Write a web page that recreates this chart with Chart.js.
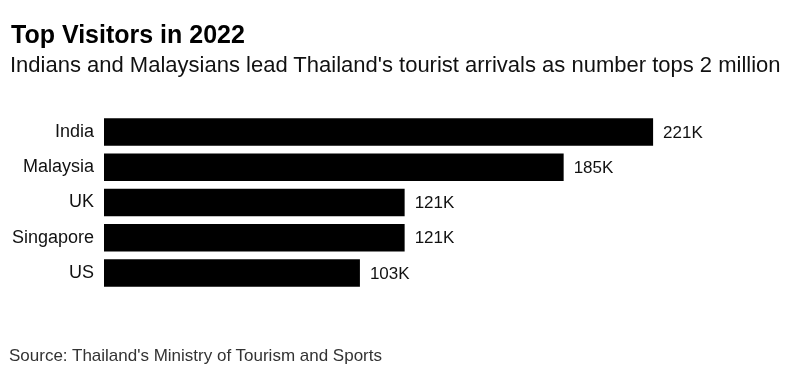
<!DOCTYPE html>
<html>
<head>
<meta charset="utf-8">
<script src="https://cdn.jsdelivr.net/npm/chart.js@4"></script>
<style>
  html, body { margin: 0; padding: 0; background: #fff; }
  body { width: 798px; height: 378px; position: relative; overflow: hidden; font-family: "Liberation Sans", Arial, sans-serif; }
  .txt { position: absolute; white-space: nowrap; }
  #title { left: 11px; top: 21.5px; font-size: 25px; line-height: 25px; font-weight: bold; color: #000; }
  #subtitle { left: 10px; top: 54px; font-size: 22px; line-height: 22px; color: #111; }
  #source { left: 9px; top: 346.6px; font-size: 17px; line-height: 17px; color: #333; }
  #wrap { position: absolute; left: 0; top: 0; width: 798px; height: 378px; }
</style>
</head>
<body>
<div id="wrap"><canvas id="visitorsChart"></canvas></div>
<div class="txt" id="title">Top Visitors in 2022</div>
<div class="txt" id="subtitle">Indians and Malaysians lead Thailand's tourist arrivals as number tops 2 million</div>
<div class="txt" id="source">Source: Thailand's Ministry of Tourism and Sports</div>
<script>
// data (thousands of visitors)
const countries = ['India', 'Malaysia', 'UK', 'Singapore', 'US'];
const visitors = [221, 185, 121, 121, 103];
const valueLabels = ['221K', '185K', '121K', '121K', '103K'];

// label at end of each bar
const barLabels = {
  id: 'barLabels',
  afterDatasetsDraw(chart) {
    const ctx = chart.ctx;
    const meta = chart.getDatasetMeta(0);
    ctx.save();
    ctx.font = '17px "Liberation Sans", Arial, sans-serif';
    ctx.fillStyle = '#111';
    ctx.textAlign = 'left';
    ctx.textBaseline = 'middle';
    meta.data.forEach((bar, i) => {
      ctx.fillText(valueLabels[i], bar.x + 10, bar.y + 1);
    });
    ctx.restore();
  }
};

new Chart(document.getElementById('visitorsChart'), {
  type: 'bar',
  data: {
    labels: countries,
    datasets: [{
      data: visitors,
      backgroundColor: '#000',
      barPercentage: 0.78,
      categoryPercentage: 1
    }]
  },
  options: {
    indexAxis: 'y',
    responsive: true,
    maintainAspectRatio: false,
    animation: false,
    layout: { padding: { top: 114.4, bottom: 87.4, right: 48, left: 0 } },
    plugins: {
      legend: { display: false },
      tooltip: { enabled: false }
    },
    scales: {
      x: {
        display: false,
        min: 0,
        max: 260
      },
      y: {
        grid: { display: false, drawTicks: false },
        border: { display: false },
        ticks: {
          color: '#111',
          padding: 10,
          font: { size: 18, family: '"Liberation Sans", Arial, sans-serif' }
        },
        afterFit(scale) { scale.width = 104; }
      }
    }
  },
  plugins: [barLabels]
});
</script>
</body>
</html>
